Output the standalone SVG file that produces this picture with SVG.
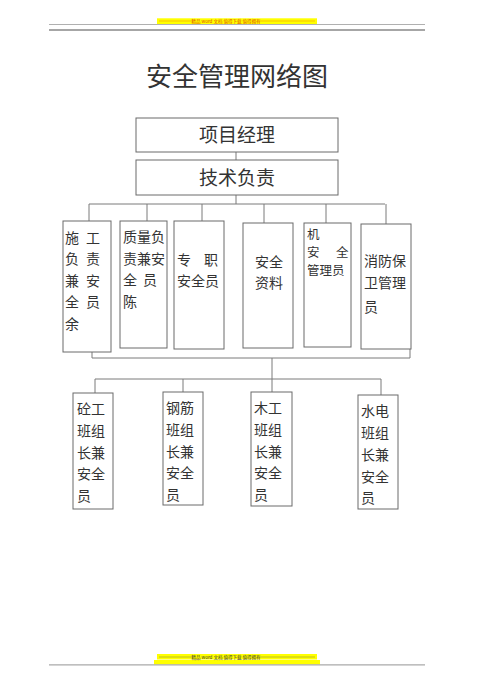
<svg xmlns="http://www.w3.org/2000/svg" width="500" height="687" viewBox="0 0 500 687">
<style>
.bx{fill:#fff;stroke:#6a6a6a;stroke-width:1}
.ln{fill:none;stroke:#7a7a7a;stroke-width:1}
.t{font-family:"Noto Sans CJK SC","Noto Sans",sans-serif;fill:#333}
.s{font-size:14px}
.b{font-size:19px}
.hd{font-family:"Noto Sans CJK SC","Noto Sans",sans-serif;font-size:4.5px;text-anchor:middle}
</style>
<rect width="500" height="687" fill="#fff"/>
<!-- header -->
<g id="header">
<rect x="157" y="18.3" width="160" height="5.7" fill="#ffff00"/>
<line x1="159" y1="21" x2="194" y2="21" stroke="#f08000" stroke-width="0.5"/>
<line x1="258" y1="21" x2="315" y2="21" stroke="#f08000" stroke-width="0.5"/>
<text class="hd" x="226" y="22.6" fill="#e05000">精品 word 文档 值得下载 值得拥有</text>
<line x1="49" y1="24.5" x2="425" y2="24.5" stroke="#b0b0b0" stroke-width="1"/>
<line x1="49" y1="30" x2="425" y2="30" stroke="#888" stroke-width="1.3"/>
</g>
<!-- footer -->
<g id="footer">
<rect x="157" y="654" width="160" height="5.5" fill="#ffff00"/>
<rect x="154" y="660" width="166" height="4.5" fill="#ffff00"/>
<line x1="159" y1="657" x2="194" y2="657" stroke="#555" stroke-width="0.4"/>
<line x1="258" y1="657" x2="315" y2="657" stroke="#555" stroke-width="0.4"/>
<text class="hd" x="226" y="658.6" fill="#333">精品 word 文档 值得下载 值得拥有</text>
<line x1="49" y1="664.8" x2="425" y2="664.8" stroke="#aaa" stroke-width="1.2"/>
</g>
<!-- title -->
<text id="title" class="t" x="237" y="86" font-size="26" text-anchor="middle" fill="#111">安全管理网络图</text>
<!-- connectors -->
<g id="connectors" class="ln">
<line x1="236" y1="152" x2="236" y2="160"/>
<line x1="236" y1="195" x2="236" y2="204"/>
<polyline points="89,221 89,204 385,204"/>
<line x1="147" y1="204" x2="147" y2="221"/>
<line x1="202" y1="204" x2="202" y2="221"/>
<line x1="264" y1="204" x2="264" y2="223"/>
<line x1="326" y1="204" x2="326" y2="223"/>
<line x1="386" y1="204" x2="386" y2="224"/>
<polyline points="92,352 92,358 410,358 410,349"/>
<line x1="272" y1="358" x2="272" y2="392"/>
<polyline points="95,393 95,379 381,379 381,395"/>
<line x1="183" y1="379" x2="183" y2="392"/>
</g>
<!-- top nodes -->
<g id="n-pm">
<rect class="bx" x="136" y="118" width="202" height="34"/>
<text class="t b" x="237" y="142" text-anchor="middle">项目经理</text>
</g>
<g id="n-tech">
<rect class="bx" x="136" y="160" width="202" height="35"/>
<text class="t b" x="237" y="185" text-anchor="middle">技术负责</text>
</g>
<!-- row 2 -->
<g id="n-sg">
<rect class="bx" x="63" y="221" width="48" height="131"/>
<text class="t s"><tspan x="65" y="243">施</tspan><tspan x="86" y="243">工</tspan><tspan x="65" y="264">负</tspan><tspan x="86" y="264">责</tspan><tspan x="65" y="286">兼</tspan><tspan x="86" y="286">安</tspan><tspan x="65" y="307">全</tspan><tspan x="86" y="307">员</tspan><tspan x="65" y="329">余</tspan></text>
</g>
<g id="n-zl">
<rect class="bx" x="120" y="221" width="47" height="127"/>
<text class="t s"><tspan x="123" y="242">质量负</tspan><tspan x="123" y="264">责兼安</tspan><tspan x="123" y="285">全</tspan><tspan x="143" y="285">员</tspan><tspan x="123" y="307">陈</tspan></text>
</g>
<g id="n-zz">
<rect class="bx" x="174" y="221" width="50" height="128"/>
<text class="t s"><tspan x="177" y="265">专</tspan><tspan x="204" y="265">职</tspan><tspan x="177" y="286">安全员</tspan></text>
</g>
<g id="n-zj">
<rect class="bx" x="243" y="223" width="50" height="125"/>
<text class="t s"><tspan x="255" y="267">安全</tspan><tspan x="255" y="288">资料</tspan></text>
</g>
<g id="n-jx">
<rect class="bx" x="304" y="223" width="47" height="124"/>
<text class="t" font-size="12.5"><tspan x="307" y="239">机</tspan><tspan x="307" y="257">安</tspan><tspan x="336" y="257">全</tspan><tspan x="307" y="275">管理员</tspan></text>
</g>
<g id="n-xf">
<rect class="bx" x="361" y="224" width="50" height="125"/>
<text class="t s"><tspan x="364" y="266">消防保</tspan><tspan x="364" y="288">卫管理</tspan><tspan x="364" y="312">员</tspan></text>
</g>
<!-- row 3 -->
<g id="n-tg">
<rect class="bx" x="73" y="393" width="40" height="116"/>
<text class="t s"><tspan x="77" y="414">砼工</tspan><tspan x="77" y="436">班组</tspan><tspan x="77" y="458">长兼</tspan><tspan x="77" y="479">安全</tspan><tspan x="77" y="501">员</tspan></text>
</g>
<g id="n-gj">
<rect class="bx" x="163" y="392" width="40" height="113"/>
<text class="t s"><tspan x="166" y="413">钢筋</tspan><tspan x="166" y="435">班组</tspan><tspan x="166" y="457">长兼</tspan><tspan x="166" y="478">安全</tspan><tspan x="166" y="500">员</tspan></text>
</g>
<g id="n-mg">
<rect class="bx" x="251" y="392" width="41" height="114"/>
<text class="t s"><tspan x="254" y="413">木工</tspan><tspan x="254" y="435">班组</tspan><tspan x="254" y="457">长兼</tspan><tspan x="254" y="478">安全</tspan><tspan x="254" y="500">员</tspan></text>
</g>
<g id="n-sd">
<rect class="bx" x="358" y="395" width="40" height="114"/>
<text class="t s"><tspan x="361" y="416">水电</tspan><tspan x="361" y="438">班组</tspan><tspan x="361" y="460">长兼</tspan><tspan x="361" y="482">安全</tspan><tspan x="361" y="503">员</tspan></text>
</g>
</svg>
